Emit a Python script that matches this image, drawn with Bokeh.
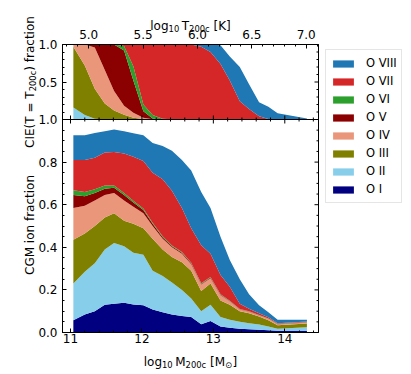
import math
from bokeh.plotting import figure
from bokeh.models import (ColumnDataSource, Range1d, LinearAxis, FixedTicker,
                          PrintfTickFormatter, Legend, LegendItem, Label)
from bokeh.embed import file_html
from bokeh.resources import INLINE

# ---------------- data ----------------
log_m200c = [11.04, 11.2, 11.34, 11.48, 11.61, 11.75, 11.88, 12.02, 12.15, 12.29, 12.42, 12.56,
             12.69, 12.83, 12.96, 13.1, 13.23, 13.37, 13.5, 13.64, 13.77, 13.9, 14.31]

ion_labels = ["O I", "O II", "O III", "O IV", "O V", "O VI", "O VII", "O VIII"]
ion_colors = ["#000080", "#87ceeb", "#808000", "#e9967a", "#8b0000", "#2ca02c", "#d62728", "#1f77b4"]

# CGM ion fractions (lower panel)
cgm_O1 = [.058, .085, .100, .130, .135, .140, .132, .128, .108, .095, .085, .078, .073, .039, .054, .028, .022, .018, .015, .013, .010, .008, .008]
cgm_O2 = [.172, .200, .225, .260, .285, .265, .243, .237, .182, .170, .150, .122, .087, .061, .076, .045, .038, .032, .028, .024, .018, .010, .017]
cgm_O3 = [.205, .180, .175, .150, .140, .120, .135, .125, .150, .125, .120, .130, .130, .095, .100, .077, .070, .050, .047, .038, .030, .016, .017]
cgm_O4 = [.150, .130, .120, .105, .095, .095, .080, .070, .060, .050, .045, .040, .030, .030, .025, .025, .015, .008, .008, .005, .006, .005, .005]
cgm_O5 = [.060, .045, .035, .030, .025, .025, .020, .015, .010, .007, .005, .005, .005, .003, .003, .002, .002, .001, .001, .001, .001, .001, .001]
cgm_O6 = [.023, .020, .017, .015, .010, .010, .008, .007, .005, .005, .004, .003, .003, .003, .003, .002, .002, .001, .001, .001, .001, .001, .001]
cgm_O7 = [.142, .150, .148, .155, .158, .185, .207, .223, .235, .268, .256, .207, .162, .179, .109, .091, .066, .025, .012, .008, .006, .002, .003]
cgm_O8 = [.116, .116, .117, .100, .105, .105, .110, .121, .140, .156, .188, .225, .270, .250, .215, .180, .125, .115, .068, .038, .023, .017, .008]

# CIE ion fractions at T = T200c (upper panel)
cie_O1 = [0] * 23
cie_O2 = [.16, .06, .01, 0, 0, 0, 0, 0, 0, 0, 0, 0, 0, 0, 0, 0, 0, 0, 0, 0, 0, 0, 0]
cie_O3 = [.81, .66, .40, .215, .12, .065, .025, .008, .002, 0, 0, 0, 0, 0, 0, 0, 0, 0, 0, 0, 0, 0, 0]
cie_O4 = [.03, .28, .55, .445, .26, .12, .065, .017, .003, 0, 0, 0, 0, 0, 0, 0, 0, 0, 0, 0, 0, 0, 0]
cie_O5 = [0, 0, .04, .34, .62, .735, .43, .085, .01, 0, 0, 0, 0, 0, 0, 0, 0, 0, 0, 0, 0, 0, 0]
cie_O6 = [0, 0, 0, 0, 0, .06, .19, .09, .045, .01, .003, 0, 0, 0, 0, 0, 0, 0, 0, 0, 0, 0, 0]
cie_O7 = [0, 0, 0, 0, 0, .02, .29, .80, .94, .99, .997, 1, 1, .97, .90, .74, .52, .245, .14, .045, .008, .003, 0]
cie_O8 = [0, 0, 0, 0, 0, 0, 0, 0, 0, 0, 0, 0, 0, .03, .10, .25, .32, .455, .33, .185, .162, .082, .015]

mass_ticks = [11, 12, 13, 14]
mass_minor_ticks = [11.2, 11.4, 11.6, 11.8, 12.2, 12.4, 12.6, 12.8, 13.2, 13.4, 13.6, 13.8, 14.2, 14.4]
temp_ticks = [5.0, 5.5, 6.0, 6.5, 7.0]
temp_minor_ticks = [4.8, 4.9, 5.1, 5.2, 5.3, 5.4, 5.6, 5.7, 5.8, 5.9, 6.1, 6.2, 6.3, 6.4,
                    6.6, 6.7, 6.8, 6.9, 7.1]
cgm_ticks = [0.0, 0.2, 0.4, 0.6, 0.8, 1.0]
cgm_minor_ticks = [0.05, 0.1, 0.15, 0.25, 0.3, 0.35, 0.45, 0.5, 0.55, 0.65, 0.7, 0.75, 0.85, 0.9, 0.95]
cie_ticks = [0.5, 1.0]
cie_minor_ticks = [0.1, 0.2, 0.3, 0.4, 0.6, 0.7, 0.8, 0.9]

# ---------------- geometry (canvas pixels) ----------------
W, H = 408, 372
PX_L, PX_R = 62, 318            # data panels, left / right edge
PY_TOP, PY_MID, PY_BOT = 44, 119, 332
M_LO, M_HI = 10.888, 14.472     # log M at the panel edges
T_LO, T_HI = 4.759, 7.113       # log T at the panel edges
FONT = "DejaVu Sans"

sx_m = (PX_R - PX_L) / (M_HI - M_LO)
sx_t = (PX_R - PX_L) / (T_HI - T_LO)
sy_cgm = PY_BOT - PY_MID
sy_cie = PY_MID - PY_TOP
Y_TOP = (PY_BOT - PY_TOP) / sy_cgm   # top edge of the upper panel in lower-panel units


def cie_to_main(v):
    return 1.0 + v * sy_cie / sy_cgm


# the frame is the whole canvas; panels are drawn inside it with fixed-location axes
p = figure(width=W, height=H, output_backend="svg", toolbar_location=None,
           x_range=Range1d(M_LO - PX_L / sx_m, M_HI + (W - PX_R) / sx_m),
           y_range=Range1d(-(H - PY_BOT) / sy_cgm, PY_BOT / sy_cgm),
           x_axis_type=None, y_axis_type=None, min_border=0)
p.extra_y_ranges = {"cie": Range1d(-(H - PY_MID) / sy_cie, PY_MID / sy_cie)}
p.extra_x_ranges = {"temp": Range1d(T_LO - PX_L / sx_t, T_HI + (W - PX_R) / sx_t)}
p.grid.visible = False
p.outline_line_color = None
p.background_fill_color = "white"
p.border_fill_color = "white"

src = ColumnDataSource(dict(
    logM=log_m200c,
    cgm_O1=cgm_O1, cgm_O2=cgm_O2, cgm_O3=cgm_O3, cgm_O4=cgm_O4,
    cgm_O5=cgm_O5, cgm_O6=cgm_O6, cgm_O7=cgm_O7, cgm_O8=cgm_O8,
    cie_O1=cie_O1, cie_O2=cie_O2, cie_O3=cie_O3, cie_O4=cie_O4,
    cie_O5=cie_O5, cie_O6=cie_O6, cie_O7=cie_O7, cie_O8=cie_O8,
))

cgm_cols = ["cgm_O%d" % i for i in range(1, 9)]
cie_cols = ["cie_O%d" % i for i in range(1, 9)]

bottom_r = p.varea_stack(stackers=cgm_cols, x="logM", color=ion_colors, source=src)
top_r = p.varea_stack(stackers=cie_cols, x="logM", color=ion_colors, source=src, y_range_name="cie")

# panel boxes and divider
p.quad(left=[M_LO], right=[M_HI], bottom=[0], top=[Y_TOP], fill_color=None,
       line_color="black", line_width=1)
p.segment(x0=[M_LO], x1=[M_HI], y0=[1.0], y1=[1.0], line_color="black", line_width=1)
# x ticks crossing the divider
p.scatter(x=mass_ticks, y=[1.0] * len(mass_ticks), marker="dash", angle=math.pi / 2,
          size=8, line_color="black", line_width=1)
p.scatter(x=mass_minor_ticks, y=[1.0] * len(mass_minor_ticks), marker="dash", angle=math.pi / 2,
          size=4, line_color="black", line_width=1)


def style_axis(ax):
    ax.axis_line_color = "black"
    ax.axis_line_width = 1
    ax.major_tick_in = 4
    ax.major_tick_out = 0
    ax.minor_tick_in = 2
    ax.minor_tick_out = 0
    ax.major_tick_line_color = "black"
    ax.minor_tick_line_color = "black"
    ax.major_label_text_font = FONT
    ax.major_label_text_font_size = "12px"
    ax.major_label_text_color = "black"


# bottom axis (log M)
ax_b = LinearAxis(ticker=FixedTicker(ticks=mass_ticks, minor_ticks=mass_minor_ticks),
                  fixed_location=0.0, bounds=(M_LO, M_HI))
style_axis(ax_b)
ax_b.major_label_standoff = 1
p.add_layout(ax_b, "below")

# top axis (log T)
ax_t = LinearAxis(x_range_name="temp",
                  ticker=FixedTicker(ticks=temp_ticks, minor_ticks=temp_minor_ticks),
                  formatter=PrintfTickFormatter(format="%.1f"),
                  fixed_location=Y_TOP, bounds=(T_LO, T_HI))
style_axis(ax_t)
ax_t.major_label_standoff = 6
p.add_layout(ax_t, "above")

# left axis covering both panels
left_ticks = cgm_ticks + [cie_to_main(v) for v in cie_ticks]
left_minor = cgm_minor_ticks + [cie_to_main(v) for v in cie_minor_ticks]
overrides = {v: "%.1f" % v for v in cgm_ticks}
overrides.update({cie_to_main(v): "%.1f" % v for v in cie_ticks})
ax_l = LinearAxis(ticker=FixedTicker(ticks=left_ticks, minor_ticks=left_minor),
                  major_label_overrides=overrides, fixed_location=M_LO, bounds=(0, Y_TOP))
style_axis(ax_l)
ax_l.major_label_standoff = 5
p.add_layout(ax_l, "left")

# right-hand inward ticks
p.segment(x0=[M_HI - 4 / sx_m] * len(left_ticks), x1=[M_HI] * len(left_ticks),
          y0=left_ticks, y1=left_ticks, line_color="black", line_width=1)
p.segment(x0=[M_HI - 2 / sx_m] * len(left_minor), x1=[M_HI] * len(left_minor),
          y0=left_minor, y1=left_minor, line_color="black", line_width=1)

# ---------------- legend ----------------
LEG_PAD, ROW = 4, 18
leg_h = len(ion_labels) * ROW + 2 * LEG_PAD
items = [LegendItem(label=ion_labels[i], renderers=[bottom_r[i]]) for i in range(7, -1, -1)]
legend = Legend(items=items, location=(325, H - 51 - leg_h))
legend.label_text_font = FONT
legend.label_text_font_size = "11.5px"
legend.label_text_color = "black"
legend.glyph_width = 26
legend.glyph_height = 9
legend.label_height = ROW
legend.label_standoff = 10
legend.spacing = 0
legend.padding = LEG_PAD
legend.border_line_color = "#cccccc"
legend.border_line_width = 1
legend.background_fill_color = "white"
legend.background_fill_alpha = 1.0
p.add_layout(legend)

# ---------------- axis titles (text pieces with subscripts) ----------------
DV = {'l': .278, 'o': .612, 'g': .635, '1': .636, '0': .636, '2': .636, 'c': .550,
      'T': .611, 'M': .863, ' ': .318, '[': .390, ']': .390, 'K': .656, '\u2299': .838,
      'C': .698, 'I': .295, 'E': .632, '(': .390, ')': .390, '=': .838, 'f': .352,
      'r': .411, 'a': .613, 't': .392, 'i': .278, 'n': .634}


def tw(s, size):
    return sum(DV.get(ch, .6) for ch in s) * size


def add_title(pieces, center, base, vertical=False):
    """center/base in canvas pixels measured from the top-left corner."""
    total = sum(gap + tw(t, size) for t, size, dy, gap in pieces)
    pos = center - total / 2
    for t, size, dy, gap in pieces:
        pos += gap
        if vertical:   # reads bottom to top; pos runs upward on the page
            lab = Label(x=base + dy, y=H - (2 * center - pos), angle=math.pi / 2)
        else:
            lab = Label(x=pos, y=H - (base + dy))
        lab.x_units = "screen"
        lab.y_units = "screen"
        lab.text = t
        lab.text_font = FONT
        lab.text_font_size = "%gpx" % size
        lab.text_color = "black"
        lab.text_align = "left"
        lab.text_baseline = "alphabetic"
        p.add_layout(lab)
        pos += tw(t, size)


SUB = 8.4
cx = (PX_L + PX_R) / 2
add_title([("log", 12, 0, 0), ("10", SUB, 3, 0), ("T", 12, 0, 2.5), ("200c", SUB, 3, 0),
           ("[K]", 12, 0, 3.8)], center=cx, base=25)
add_title([("log", 12, 0, 0), ("10", SUB, 3, 0), ("M", 12, 0, 2.5), ("200c", SUB, 3, 0),
           ("[M", 12, 0, 3.8), ("\u2299", SUB, 3, 0), ("]", 12, 0, 0.5)], center=cx, base=361)
add_title([("CIE(T = T", 12, 0, 0), ("200c", SUB, 3, 0), (") fraction", 12, 0, 0)],
          center=(PY_TOP + PY_MID) / 2, base=29.5, vertical=True)
add_title([("CGM ion fraction", 12, 0, 0)], center=(PY_MID + PY_BOT) / 2, base=29.5, vertical=True)

open("out.html", "w").write(file_html(p, INLINE))
